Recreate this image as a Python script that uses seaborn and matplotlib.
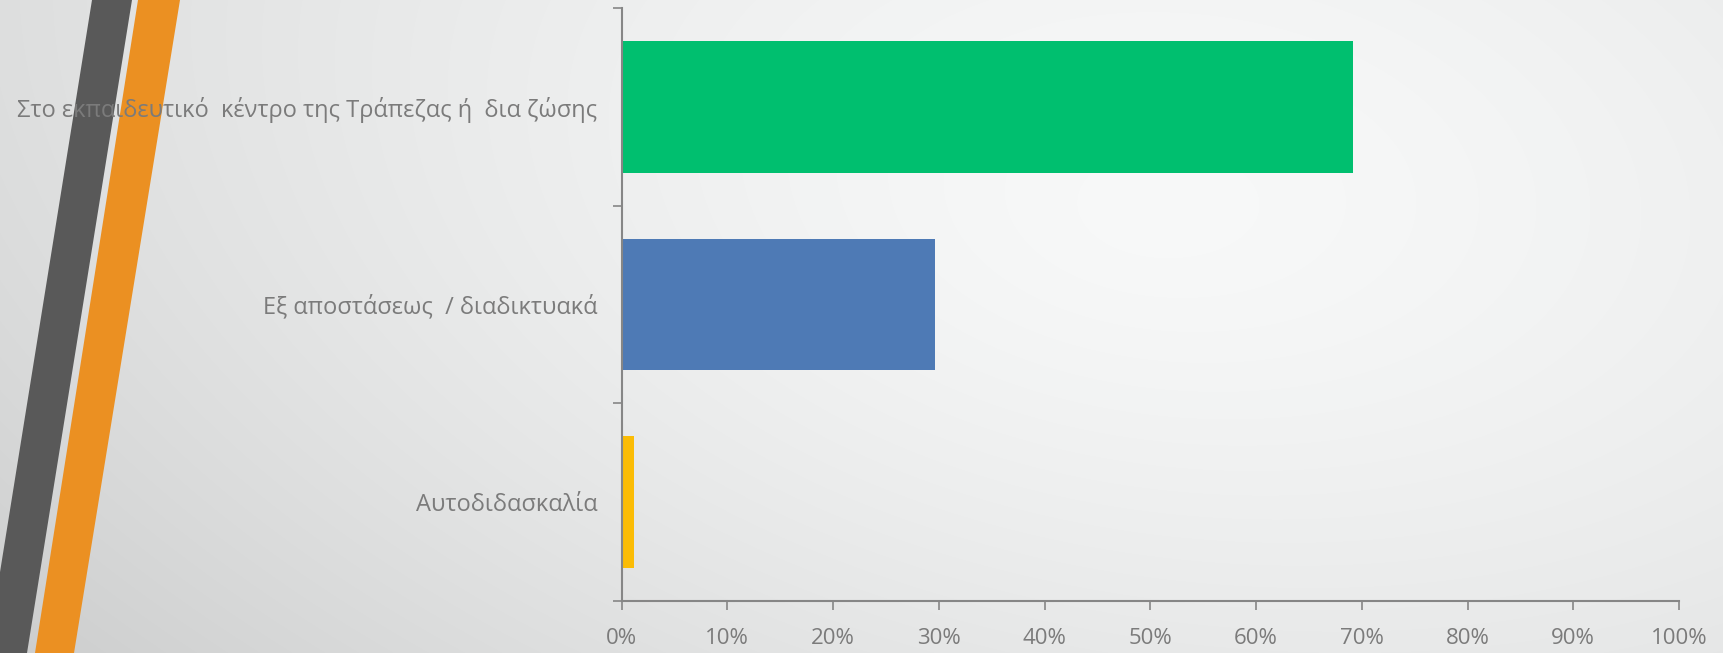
import numpy as np
import pandas as pd
import matplotlib
matplotlib.use("Agg")
import matplotlib.pyplot as plt
import seaborn as sns
from matplotlib.patches import Polygon
from matplotlib.ticker import FixedLocator, FuncFormatter


categories = [
    "Στο εκπαιδευτικό  κέντρο της Τράπεζας ή  δια ζώσης ",
    "Εξ αποστάσεως  / διαδικτυακά ",
    "Αυτοδιδασκαλία ",
]
shares = [69.2, 29.6, 1.2]
bar_colors = ["#00BF6F", "#4E7AB5", "#FBBC05"]
x_ticks = [0, 10, 20, 30, 40, 50, 60, 70, 80, 90, 100]

W, H = 1723, 653
AXIS_GREY = "#868686"
TEXT_GREY = "#7b7b7b"


def draw_background(fig):
    bg = fig.add_axes([0, 0, 1, 1], zorder=-10)
    yy, xx = np.mgrid[0:H, 0:W]
    # soft radial light, brightest slightly right of centre
    d = np.sqrt(((xx - 1150) / 950.0) ** 2 + ((yy - 220) / 560.0) ** 2)
    val = 250 - 38 * np.clip(d, 0, 1.6) ** 1.4 / 1.6 ** 1.4
    val = val - 12 * (yy / H) * (1 - xx / W)
    img = np.dstack([val - 1, val, val]) / 255.0
    bg.imshow(np.clip(img, 0, 1), extent=[0, W, H, 0], aspect="auto")
    bg.set_xlim(0, W)
    bg.set_ylim(H, 0)
    bg.axis("off")
    # decorative slanted stripes on the left
    bg.add_patch(Polygon([(92, 0), (132, 0), (27, H), (-13, H)],
                         closed=True, color="#595959", lw=0))
    bg.add_patch(Polygon([(138, 0), (180, 0), (74, H), (35, H)],
                         closed=True, color="#EB9022", lw=0))


def main():
    sns.set_theme(style="white")
    plt.rcParams["font.family"] = ["Open Sans", "DejaVu Sans"]

    df = pd.DataFrame({"category": categories, "share": shares})

    fig = plt.figure(figsize=(W / 100, H / 100), dpi=100)
    draw_background(fig)

    ax = fig.add_axes([621.5 / W, 52 / H, (1679 - 621.5) / W, (601 - 8) / H])
    ax.patch.set_alpha(0)

    sns.barplot(data=df, x="share", y="category", hue="category",
                palette=bar_colors, orient="h", width=0.667,
                saturation=1, legend=False, linewidth=0, ax=ax)

    ax.set_xlim(0, 100)
    ax.set_ylim(2.5, -0.5)
    ax.set_xlabel("")
    ax.set_ylabel("")

    for side in ["top", "right"]:
        ax.spines[side].set_visible(False)
    for side in ["left", "bottom"]:
        ax.spines[side].set_color(AXIS_GREY)
        ax.spines[side].set_linewidth(1.5)

    ax.xaxis.set_major_locator(FixedLocator(x_ticks))
    ax.xaxis.set_major_formatter(FuncFormatter(lambda v, _: f"{v:.0f}%"))
    ax.tick_params(axis="x", which="major", direction="out", length=6.5,
                   width=1.2, color=AXIS_GREY, labelcolor=TEXT_GREY,
                   labelsize=16, pad=13, bottom=True)

    ax.yaxis.set_major_locator(FixedLocator(range(len(categories))))
    ax.set_yticklabels(categories)
    ax.yaxis.set_minor_locator(FixedLocator([-0.5, 0.5, 1.5, 2.5]))
    ax.tick_params(axis="y", which="major", length=0, labelcolor=TEXT_GREY,
                   labelsize=17, pad=13, left=False)
    ax.tick_params(axis="y", which="minor", direction="out", length=6.5,
                   width=1.2, color=AXIS_GREY, left=True)

    fig.savefig("out.png", dpi=100)
    plt.close(fig)


if __name__ == "__main__":
    main()
